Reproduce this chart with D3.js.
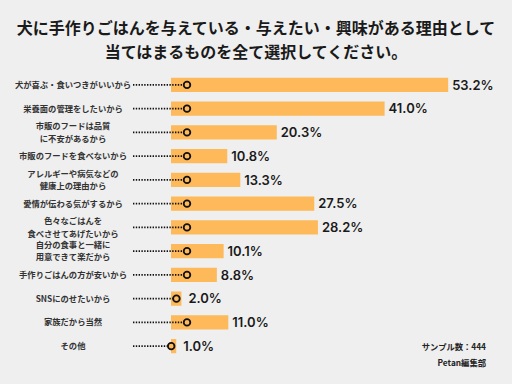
<!DOCTYPE html>
<html><head><meta charset="utf-8">
<script src="https://cdn.jsdelivr.net/npm/d3@7"></script>
<style>
html,body{margin:0;padding:0;background:#efefef;}
svg{display:block;}
</style></head>
<body>
<script>
const titleLines = ["犬に手作りごはんを与えている・与えたい・興味がある理由として", "当てはまるものを全て選択してください。"];
const categories = [
  "犬が喜ぶ・食いつきがいいから",
  "栄養面の管理をしたいから",
  "市販のフードは品質\nに不安があるから",
  "市販のフードを食べないから",
  "アレルギーや病気などの\n健康上の理由から",
  "愛情が伝わる気がするから",
  "色々なごはんを\n食べさせてあげたいから",
  "自分の食事と一緒に\n用意できて楽だから",
  "手作りごはんの方が安いから",
  "SNSにのせたいから",
  "家族だから当然",
  "その他"
];
const values = [53.2, 41.0, 20.3, 10.8, 13.3, 27.5, 28.2, 10.1, 8.8, 2.0, 11.0, 1.0];
const footnotes = ["サンプル数：444", "Petan編集部"];

const W = 512, H = 384;
const svg = d3.select("body").append("svg").attr("width", W).attr("height", H);
svg.append("rect").attr("width", W).attr("height", H).attr("fill", "#efefef");

const jp = "'Noto Sans CJK JP', 'Noto Sans', sans-serif";

svg.selectAll("text.title").data(titleLines).join("text")
  .attr("class", "title")
  .attr("x", 256).attr("y", (d, i) => 34 + i * 23.5)
  .attr("text-anchor", "middle")
  .attr("font-family", jp).attr("font-weight", 700).attr("font-size", 16)
  .attr("fill", "#1a1a1a")
  .text(d => d);

const x = d3.scaleLinear().domain([0, 60]).range([171, 171 + 60 * 5.21]);
const y = d3.scaleBand().domain(d3.range(categories.length)).range([73, 358]).paddingInner(0.4).paddingOuter(0.2);

const rows = svg.selectAll("g.row").data(values).join("g").attr("class", "row");

rows.append("rect")
  .attr("x", x(0))
  .attr("y", (d, i) => y(i))
  .attr("width", d => x(d) - x(0))
  .attr("height", y.bandwidth())
  .attr("fill", "#fdb95a");

const cy = i => y(i) + y.bandwidth() / 2;
const cx = d => Math.min(187, x(d) - 5);

rows.append("line")
  .attr("x1", 133).attr("x2", d => cx(d) - 3)
  .attr("y1", (d, i) => cy(i)).attr("y2", (d, i) => cy(i))
  .attr("stroke", "#111").attr("stroke-width", 1.8)
  .attr("stroke-dasharray", "1.4,1.4");

rows.append("circle")
  .attr("cx", d => cx(d)).attr("cy", (d, i) => cy(i))
  .attr("r", 3.3)
  .attr("fill", "#fdb95a")
  .attr("stroke", "#111").attr("stroke-width", 1.8);

rows.append("text")
  .attr("x", d => Math.max(x(d), cx(d) + 8) + 4)
  .attr("y", (d, i) => cy(i))
  .attr("dy", "0.36em")
  .attr("font-family", "Inter, 'Noto Sans', sans-serif")
  .attr("font-weight", 600).attr("font-size", 13)
  .attr("fill", "#1a1a1a")
  .text(d => d.toFixed(1) + "%");

rows.each(function (d, i) {
  const lines = categories[i].split("\n");
  const t = d3.select(this).append("text")
    .attr("text-anchor", "middle")
    .attr("font-family", jp).attr("font-weight", 700).attr("font-size", 8.3)
    .attr("fill", "#333");
  lines.forEach((ln, k) => {
    t.append("tspan")
      .attr("x", 73)
      .attr("y", cy(i) + (k - (lines.length - 1) / 2) * 12.5)
      .attr("dy", "0.35em")
      .text(ln);
  });
});

svg.selectAll("text.foot").data(footnotes).join("text")
  .attr("class", "foot")
  .attr("x", 486).attr("y", (d, i) => 347 + i * 16.5)
  .attr("dy", "0.35em")
  .attr("text-anchor", "end")
  .attr("font-family", jp).attr("font-weight", 700).attr("font-size", 8.3)
  .attr("fill", "#222")
  .text(d => d);
</script>
</body></html>
